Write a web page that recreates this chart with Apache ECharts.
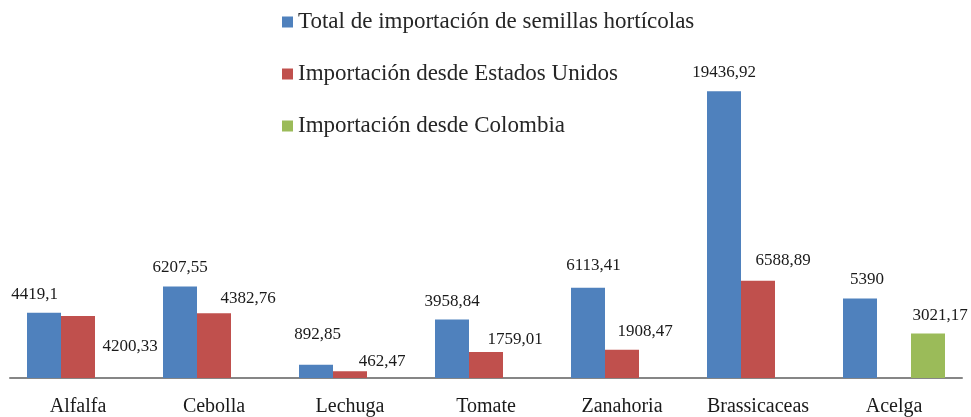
<!DOCTYPE html>
<html>
<head>
<meta charset="utf-8">
<script src="https://cdn.jsdelivr.net/npm/echarts@6/dist/echarts.min.js"></script>
<style>
  html, body { margin: 0; padding: 0; background: #fff; }
  #chart { width: 971px; height: 417px; }
</style>
</head>
<body>
<div id="chart"></div>
<script>
// datos
const categorias = ['Alfalfa', 'Cebolla', 'Lechuga', 'Tomate', 'Zanahoria', 'Brassicaceas', 'Acelga']
const totalImport = [4419.1, 6207.55, 892.85, 3958.84, 6113.41, 19436.92, 5390]
const importEEUU = [4200.33, 4382.76, 462.47, 1759.01, 1908.47, 6588.89, null]
const importColombia = [null, null, null, null, null, null, 3021.17]
const nombres = [
  'Total de importación de semillas hortícolas',
  'Importación desde Estados Unidos',
  'Importación desde Colombia'
]

// desplazamiento manual de etiquetas (como en el original)
const offTotal = [[-9.5, -18], [0, -19], [1.5, -30], [0, -18], [5.5, -22], [0, -19], [7, -19]]
const offEEUU = [[52, 30], [34, -15], [32, -10], [29, -13], [23, -18], [25, -20], null]
const offColombia = [null, null, null, null, null, null, [12, -18]]

function fmt (v) {
  return String(v).replace('.', ',')
}

function items (vals, offs) {
  return vals.map((v, i) => {
    if (v === null) return null
    const o = offs[i] || [0, -18]
    return {
      value: v,
      label: { offset: [o[0], o[1] + 8.5] }
    }
  })
}

const etiqueta = {
  show: true,
  position: 'top',
  distance: 0,
  fontFamily: 'Liberation Serif',
  fontSize: 17,
  color: '#1a1a1a',
  formatter: p => fmt(p.value)
}

let myChart = echarts.init(document.getElementById('chart'))
let option = {
  animation: false,
  color: ['#4F81BD', '#C0504D', '#9BBB59'],
  legend: {
    orient: 'vertical',
    left: 277,
    top: 5,
    itemWidth: 11,
    itemHeight: 11,
    itemGap: 28,
    icon: 'rect',
    data: nombres,
    textStyle: {
      fontFamily: 'Liberation Serif',
      fontSize: 23,
      lineHeight: 24,
      color: '#262626'
    }
  },
  grid: { left: 10, right: 9, top: 83, bottom: 38 },
  xAxis: {
    type: 'category',
    data: categorias,
    axisTick: { show: false },
    axisLine: { lineStyle: { color: '#868686', width: 2 } },
    axisLabel: {
      margin: 19,
      fontFamily: 'Liberation Serif',
      fontSize: 20,
      color: '#1a1a1a'
    }
  },
  yAxis: {
    type: 'value',
    min: 0,
    max: 20000,
    show: false,
    splitLine: { show: false }
  },
  series: [
    {
      name: nombres[0],
      type: 'bar',
      barGap: '0%',
      barCategoryGap: '25%',
      data: items(totalImport, offTotal),
      label: etiqueta
    },
    {
      name: nombres[1],
      type: 'bar',
      barGap: '0%',
      barCategoryGap: '25%',
      data: items(importEEUU, offEEUU),
      label: etiqueta
    },
    {
      name: nombres[2],
      type: 'bar',
      barGap: '0%',
      barCategoryGap: '25%',
      data: items(importColombia, offColombia),
      label: etiqueta
    }
  ]
}
myChart.setOption(option)
window.addEventListener('resize', function () {
  myChart.resize()
})
</script>
</body>
</html>
